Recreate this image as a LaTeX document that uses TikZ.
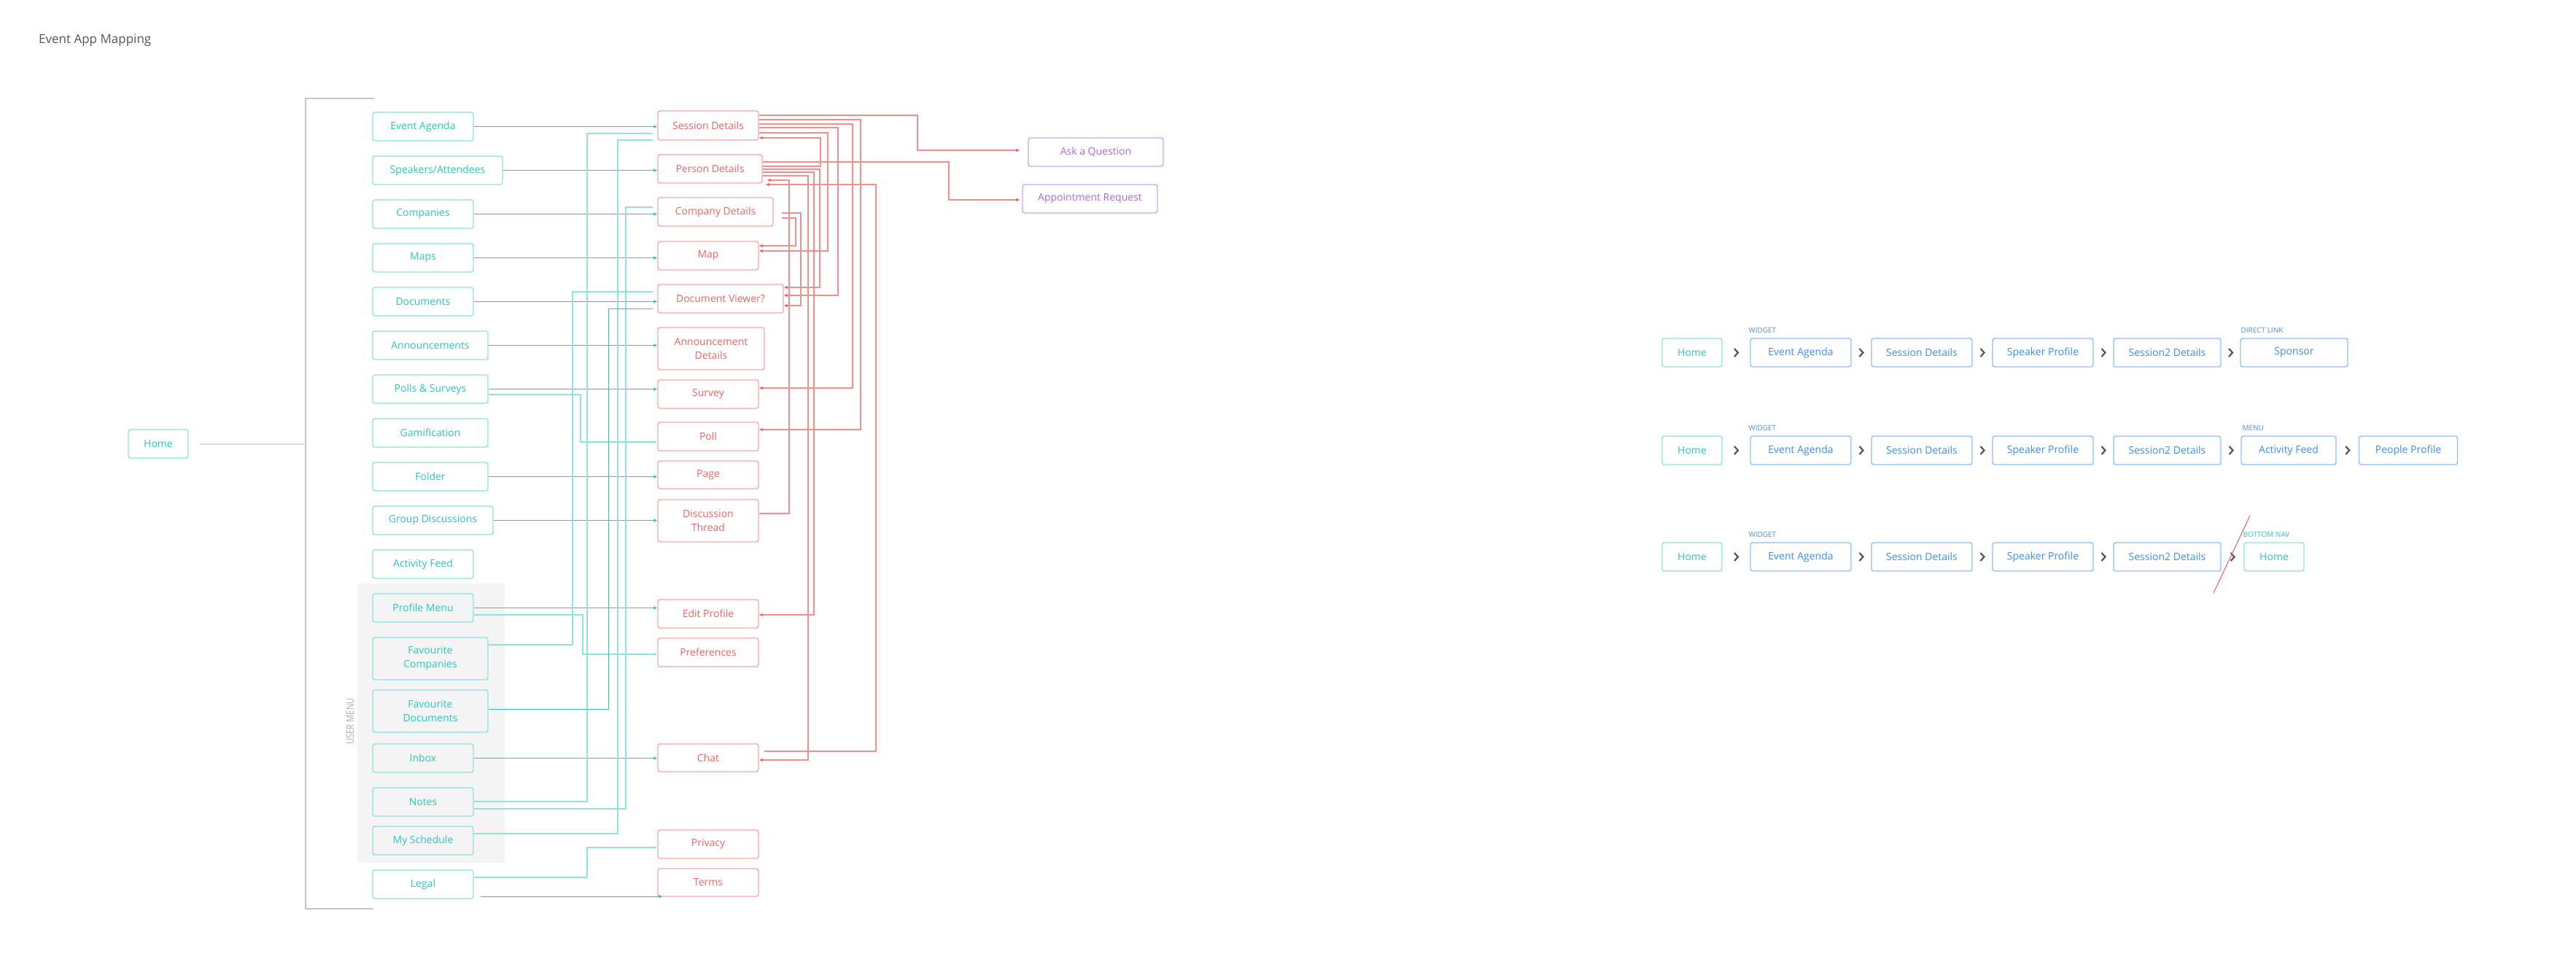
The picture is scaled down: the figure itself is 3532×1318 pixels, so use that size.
\documentclass[tikz,border=0pt]{standalone}
\usepackage{fontspec}
\setmainfont{Open Sans}
\usetikzlibrary{arrows.meta,calc}
\definecolor{tealB}{HTML}{8EE2DB}
\definecolor{tealT}{HTML}{2BC6B9}
\definecolor{tealD}{HTML}{2CC7BB}
\definecolor{tealLt}{HTML}{8FE3DC}
\definecolor{redB}{HTML}{F7A8A8}
\definecolor{redT}{HTML}{EF6464}
\definecolor{redL}{HTML}{F28E8E}
\definecolor{redA}{HTML}{EE5E5E}
\definecolor{purpB}{HTML}{CFA5EE}
\definecolor{purpT}{HTML}{A56BE0}
\definecolor{blueB}{HTML}{8DBFFB}
\definecolor{blueT}{HTML}{3B8EEF}
\definecolor{labBlue}{HTML}{4A90E2}
\definecolor{chevC}{HTML}{555555}
\definecolor{brkC}{HTML}{C6C6C6}
\definecolor{homeL}{HTML}{DADADA}
\definecolor{menuBg}{HTML}{F4F4F4}
\definecolor{titleC}{HTML}{555555}
\definecolor{umC}{HTML}{A9AFB6}
\tikzset{
  bx/.style={draw, rounded corners=3pt, line width=1.4pt, minimum height=39pt, inner sep=0pt, align=center, font=\fontsize{14}{19}\selectfont},
  tbox/.style={bx, draw=tealB, text=tealT},
  rbox/.style={bx, draw=redB, text=redT},
  pbox/.style={bx, draw=purpB, text=purpT},
  bbox/.style={bx, draw=blueB, text=blueT},
  arr/.style={-{Latex[length=5pt,width=5pt]}},
  tl/.style={draw=tealD, line width=0.9pt},
  tlt/.style={draw=tealLt, line width=1.6pt},
  rl/.style={draw=redL, line width=1.1pt},
  rarr/.style={-{Latex[length=5pt,width=5pt,color=redA]}},
  chev/.style={draw=chevC, line width=2.2pt},
  lab/.style={anchor=base west, inner sep=0pt, font=\fontsize{10}{12}\selectfont, text=labBlue},
}
\begin{document}
\begin{tikzpicture}[x=1pt,y=-1pt]
\fill[white] (0,0) rectangle (3532,1318);
\useasboundingbox (0,0) rectangle (3532,1318);

\node[anchor=west, inner sep=0pt, text=titleC, font=\fontsize{17}{20}\selectfont] (title) at (53,55) {Event App Mapping};

% user menu background
\fill[menuBg] (490,800) rectangle (692,1183);
\node[rotate=90, inner sep=0pt, text=umC, font=\fontsize{14}{16}\selectfont] (um) at (480,989) {\scalebox{0.8}[1]{USER MENU}};

% bracket
\draw[brkC, line width=1.3pt] (513,135) -| (419,1246) -- (512,1246);
\coordinate (brk) at (419,609);

% home
\node[tbox, minimum width=82pt] (home) at (217,608.5) {Home};
\draw[homeL, line width=2pt, shorten <=15pt] (home.east) -- (home.east -| brk);

% left column
\node[tbox, minimum width=138pt] (ea) at (580,173.5) {Event Agenda};
\node[tbox, minimum width=178pt] (sa) at (600,233.5) {Speakers/Attendees};
\node[tbox, minimum width=138pt] (co) at (580,293.5) {Companies};
\node[tbox, minimum width=138pt] (ma) at (580,353.5) {Maps};
\node[tbox, minimum width=138pt] (do) at (580,413.5) {Documents};
\node[tbox, minimum width=158pt] (an) at (590,473.5) {Announcements};
\node[tbox, minimum width=158pt] (ps) at (590,533.5) {Polls \& Surveys};
\node[tbox, minimum width=158pt] (ga) at (590,593.5) {Gamification};
\node[tbox, minimum width=158pt] (fo) at (590,653.5) {Folder};
\node[tbox, minimum width=165pt] (gd) at (593.5,713.5) {Group Discussions};
\node[tbox, minimum width=138pt] (af) at (580,773.5) {Activity Feed};
\node[tbox, minimum width=138pt] (pm) at (580,833.5) {Profile Menu};
\node[tbox, minimum width=158pt, minimum height=58pt] (fc) at (590,903) {Favourite\\Companies};
\node[tbox, minimum width=158pt, minimum height=58pt] (fd) at (590,975) {Favourite\\Documents};
\node[tbox, minimum width=138pt] (ib) at (580,1039.5) {Inbox};
\node[tbox, minimum width=138pt] (nt) at (580,1099.5) {Notes};
\node[tbox, minimum width=138pt] (ms) at (580,1152.5) {My Schedule};
\node[tbox, minimum width=138pt] (lg) at (580,1212.5) {Legal};

% middle column
\node[rbox, minimum width=138pt, minimum height=40pt] (sd) at (971,172) {Session Details};
\node[rbox, minimum width=143pt] (pd) at (973.5,231.5) {Person Details};
\node[rbox, minimum width=158pt] (cd) at (981,290.5) {Company Details};
\node[rbox, minimum width=138pt] (mp) at (971,350.5) {Map};
\node[rbox, minimum width=172pt] (dv) at (988,409.5) {Document Viewer?};
\node[rbox, minimum width=146pt, minimum height=58pt] (ad) at (975,478) {Announcement\\Details};
\node[rbox, minimum width=138pt] (sv) at (971,540.5) {Survey};
\node[rbox, minimum width=138pt] (pl) at (971,598.5) {Poll};
\node[rbox, minimum width=138pt, minimum height=38pt] (pg) at (971,651) {Page};
\node[rbox, minimum width=138pt, minimum height=58pt] (dt) at (971,714) {Discussion\\Thread};
\node[rbox, minimum width=138pt] (ep) at (971,841.5) {Edit Profile};
\node[rbox, minimum width=138pt] (pr) at (971,894.5) {Preferences};
\node[rbox, minimum width=138pt, minimum height=38pt] (ch) at (971,1039) {Chat};
\node[rbox, minimum width=138pt] (pv) at (971,1157.5) {Privacy};
\node[rbox, minimum width=138pt, minimum height=38pt] (tm) at (971,1210) {Terms};

% purple
\node[pbox, minimum width=185pt] (aq) at (1502.5,208.5) {Ask a Question};
\node[pbox, minimum width=185pt] (ar) at (1494.5,272.5) {Appointment Request};

% teal connectors
\draw[tl,arr] (ea.east) -- (ea.east -| sd.west);
\draw[tl,arr] (sa.east) -- (sa.east -| pd.west);
\draw[tl,arr] (co.east) -- (co.east -| cd.west);
\draw[tl,arr] (ma.east) -- (ma.east -| mp.west);
\draw[tl,arr] (do.east) -- (do.east -| dv.west);
\draw[tl,arr] (an.east) -- (an.east -| ad.west);
\draw[tl,arr] (ps.east) -- (ps.east -| sv.west);
\draw[tl,arr] (fo.east) -- (fo.east -| pg.west);
\draw[tl,arr] (gd.east) -- (gd.east -| dt.west);
\draw[tl,arr] (pm.east) -- (pm.east -| ep.west);
\draw[tl,arr] (ib.east) -- (ib.east -| ch.west);
\draw[tlt,arr] (ps.east |- 0,541) -| (796,606) -- (pl.west |- 0,606);
\draw[tlt,arr] (pm.east |- 0,843) -| (799,897) -- (pr.west |- 0,897);
\draw[tlt,arr] (lg.east |- 0,1203) -| (805,1162) -- (pv.west |- 0,1162);
\draw[tl,arr,shorten <=9pt,shorten >=-7pt] (lg.east |- 0,1229) -- (tm.west |- 0,1229);
\draw[tlt,shorten >=6pt] (nt.east |- 0,1099) -| (805,183) -- (sd.west |- 0,183);
\draw[tlt,shorten >=6pt] (nt.east |- 0,1109) -| (858,284) -- (cd.west |- 0,284);
\draw[tlt,shorten >=6pt] (ms.east |- 0,1143) -| (847,192) -- (sd.west |- 0,192);
\draw[tlt,shorten >=6pt] (fc.east |- 0,884) -| (785,400) -- (dv.west |- 0,400);
\draw[tl,shorten >=6pt] (fd.east |- 0,972) -| (834,423) -- (dv.west |- 0,423);

% red connectors
\draw[rl,rarr,shorten >=11pt] (sd.east |- 0,158) -| (1258,206) -- (aq.west |- 0,206);
\draw[rl,rarr,shorten >=3pt] (pd.east |- 0,222) -| (1301,274) -- (ar.west |- 0,274);
\draw[rl,rarr] (sd.east |- 0,164) -| (1180,589) -- (pl.east |- 0,589);
\draw[rl,rarr] (sd.east |- 0,170) -| (1169,532) -- (sv.east |- 0,532);
\draw[rl,rarr] (sd.east |- 0,175) -| (1149,405) -- (dv.east |- 0,405);
\draw[rl,rarr] (sd.east |- 0,182) -| (1135,344) -- (mp.east |- 0,344);
\draw[rl,rarr] (pd.east |- 0,228) -| (1125,189) -- (sd.east |- 0,189);
\draw[rl,rarr] (pd.east |- 0,232) -| (1124,394) -- (dv.east |- 0,394);
\draw[rl,rarr] (pd.east |- 0,236) -| (1116,843) -- (ep.east |- 0,843);
\draw[rl,rarr] (pd.east |- 0,241) -| (1108,1042) -- (ch.east |- 0,1042);
\draw[rl,rarr,shorten >=6pt] (dt.east |- 0,704) -| (1082,247) -- (pd.east |- 0,247);
\draw[rl,rarr,shorten <=7pt,shorten >=4pt] (ch.east |- 0,1030) -| (1201,253) -- (pd.east |- 0,253);
\draw[rl,rarr,shorten <=11pt] (cd.east |- 0,292) -| (1098,419) -- (dv.east |- 0,419);
\draw[rl,rarr,shorten <=11pt] (cd.east |- 0,299) -| (1091,337) -- (mp.east |- 0,337);

% right flows
\node[tbox, minimum width=82pt] (h1) at (2320,483.5) {Home};
\node[bbox, minimum width=138pt] (a1) at (2469,483.5) {Event Agenda};
\node[bbox, minimum width=138pt] (s1) at (2635,483.5) {Session Details};
\node[bbox, minimum width=138pt] (p1) at (2801,483.5) {Speaker Profile};
\node[bbox, minimum width=147pt] (t1) at (2971.5,483.5) {Session2 Details};
\node[bbox, minimum width=147pt] (sp1) at (3145.5,483.5) {Sponsor};

\node[tbox, minimum width=82pt] (h2) at (2320,617.5) {Home};
\node[bbox, minimum width=138pt] (a2) at (2469,617.5) {Event Agenda};
\node[bbox, minimum width=138pt] (s2) at (2635,617.5) {Session Details};
\node[bbox, minimum width=138pt] (p2) at (2801,617.5) {Speaker Profile};
\node[bbox, minimum width=147pt] (t2) at (2971.5,617.5) {Session2 Details};
\node[bbox, minimum width=130pt] (af2) at (3138,617.5) {Activity Feed};
\node[bbox, minimum width=135pt] (pp2) at (3302,617.5) {People Profile};

\node[tbox, minimum width=82pt] (h3) at (2320,763.5) {Home};
\node[bbox, minimum width=138pt] (a3) at (2469,763.5) {Event Agenda};
\node[bbox, minimum width=138pt] (s3) at (2635,763.5) {Session Details};
\node[bbox, minimum width=138pt] (p3) at (2801,763.5) {Speaker Profile};
\node[bbox, minimum width=147pt] (t3) at (2971.5,763.5) {Session2 Details};
\node[tbox, minimum width=82pt] (hb3) at (3118,763.5) {Home};

\node[lab, xshift=-2pt, yshift=7pt] (w1) at (a1.north west) {WIDGET};
\node[lab, xshift=-2pt, yshift=7pt] (w2) at (a2.north west) {WIDGET};
\node[lab, xshift=-2pt, yshift=7pt] (w3) at (a3.north west) {WIDGET};
\node[lab, xshift=1pt, yshift=7pt] (dl) at (sp1.north west) {DIRECT LINK};
\node[lab, xshift=2pt, yshift=7pt] (mn) at (af2.north west) {MENU};
\node[lab, xshift=-1pt, yshift=7pt, text=tealT] (bn) at (hb3.north west) {BOTTOM NAV};

\foreach \a/\b in {h1/a1,a1/s1,s1/p1,p1/t1,t1/sp1,h2/a2,a2/s2,s2/p2,p2/t2,t2/af2,af2/pp2,h3/a3,a3/s3,s3/p3,p3/t3,t3/hb3}{
  \coordinate (cc) at ($(\a.east)!0.5!(\b.west)$);
  \draw[chev] ($(cc)+(-2.5,-5.5)$) -- ++(5,5.5) -- ++(-5,5.5);
}

% red slash
\draw[draw=redT, line width=1.1pt] (3085,707) -- (3035,813);
\end{tikzpicture}
\end{document}
